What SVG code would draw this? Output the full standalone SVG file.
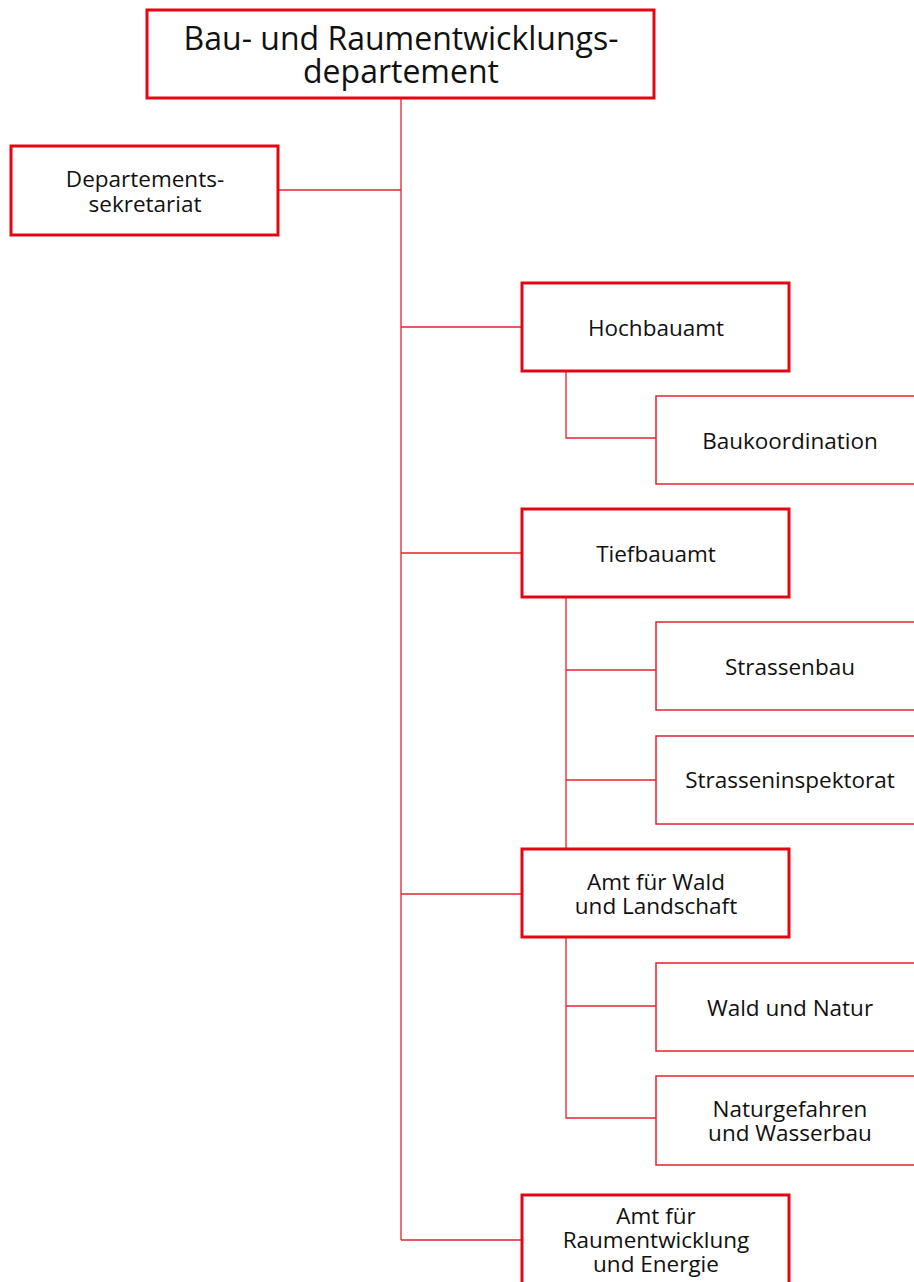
<svg xmlns="http://www.w3.org/2000/svg" width="914" height="1282" viewBox="0 0 914 1282">
<style>
.main{fill:#fff;stroke:#e30613;stroke-width:3}
.sub{fill:#fff;stroke:#e8202d;stroke-width:1.5}
.c{fill:none;stroke:#e8202d;stroke-width:1.3}
text{font-family:"Open Sans","Noto Sans","Liberation Sans",sans-serif;fill:#111;text-anchor:middle;font-size:22.5px}
.big{font-size:32px}
</style>
<rect width="914" height="1282" fill="#fff"/>
<g id="connectors">
<path class="c" d="M401 98V1240M278 190H401M401 327H522M401 553H522M401 894H522M401 1240H522"/>
<path class="c" d="M566 371V438H656M566 597V849M566 670H656M566 780H656M566 937V1118H656M566 1006H656"/>
</g>
<g id="n-bau"><rect class="main" x="147" y="10" width="507" height="88"/><text class="big" x="401" y="50">Bau- und Raumentwicklungs-</text><text class="big" x="401" y="83">departement</text></g>
<g id="n-sekr"><rect class="main" x="11" y="146" width="267" height="89"/><text x="145" y="187">Departements-</text><text x="145" y="212">sekretariat</text></g>
<g id="n-hoch"><rect class="main" x="522" y="283" width="267" height="88"/><text x="656" y="336">Hochbauamt</text></g>
<g id="n-baukoord"><rect class="sub" x="656" y="396" width="268" height="88"/><text x="790" y="449">Baukoordination</text></g>
<g id="n-tief"><rect class="main" x="522" y="509" width="267" height="88"/><text x="656" y="562">Tiefbauamt</text></g>
<g id="n-strbau"><rect class="sub" x="656" y="622" width="268" height="88"/><text x="790" y="675">Strassenbau</text></g>
<g id="n-strinsp"><rect class="sub" x="656" y="736" width="268" height="88"/><text x="790" y="788">Strasseninspektorat</text></g>
<g id="n-wald"><rect class="main" x="522" y="849" width="267" height="88"/><text x="656" y="890">Amt für Wald</text><text x="656" y="914">und Landschaft</text></g>
<g id="n-waldnatur"><rect class="sub" x="656" y="963" width="268" height="88"/><text x="790" y="1016">Wald und Natur</text></g>
<g id="n-naturgef"><rect class="sub" x="656" y="1076" width="268" height="89"/><text x="790" y="1117">Naturgefahren</text><text x="790" y="1141">und Wasserbau</text></g>
<g id="n-raum"><rect class="main" x="522" y="1195" width="267" height="100"/><text x="656" y="1224">Amt für</text><text x="656" y="1248">Raumentwicklung</text><text x="656" y="1272">und Energie</text></g>
</svg>
